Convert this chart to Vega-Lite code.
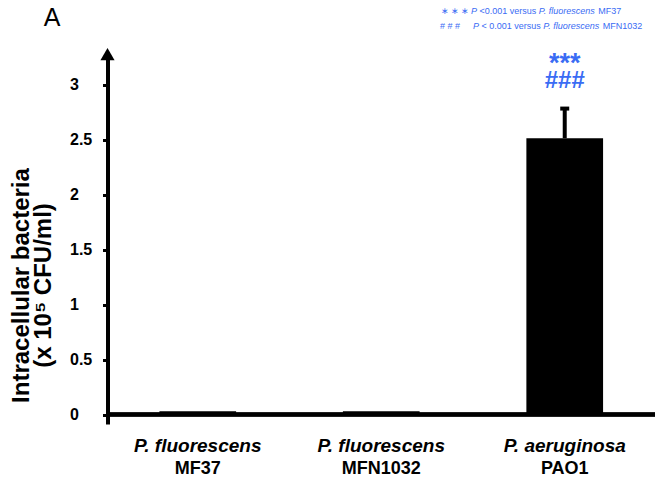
{
  "$schema": "https://vega.github.io/schema/vega-lite/v6.json",
  "width": 547.5,
  "height": 372,
  "autosize": "none",
  "padding": {"left": 107.5, "top": 52, "right": 0, "bottom": 56},
  "background": "white",
  "config": {"view": {"stroke": null}, "font": "Liberation Sans"},
  "data": {
    "values": [
      {"label": "P. fluorescens MF37", "mean": 0.03, "upper": null, "sig1": "", "sig2": ""},
      {"label": "P. fluorescens MFN1032", "mean": 0.03, "upper": null, "sig1": "", "sig2": ""},
      {"label": "P. aeruginosa PAO1", "mean": 2.515, "upper": 2.785, "sig1": "***", "sig2": "###"}
    ]
  },
  "layer": [
    {
      "mark": {"type": "bar", "color": "black"},
      "encoding": {
        "x": {
          "field": "label", "type": "nominal", "sort": null,
          "scale": {"paddingInner": 0.582, "paddingOuter": 0.283},
          "axis": {
            "orient": "bottom",
            "labelExpr": "slice(datum.value, 0, lastindexof(datum.value, ' '))",
            "labelAngle": 0, "labelFontSize": 19, "labelFontWeight": "bold", "labelFontStyle": "italic",
            "labelColor": "black", "labelPadding": 12, "labelBaseline": "top", "ticks": false, "domain": false, "title": null
          }
        },
        "y": {
          "field": "mean", "type": "quantitative",
          "scale": {"domain": [-0.086, 3.3], "nice": false, "zero": false},
          "axis": {
            "values": [0, 0.5, 1, 1.5, 2, 2.5, 3], "format": "~g", "grid": false,
            "domainWidth": 4, "domainColor": "black", "tickWidth": 3, "tickSize": 5, "tickColor": "black",
            "labelFontSize": 16, "labelFontWeight": "bold", "labelAlign": "left", "labelPadding": 33,
            "labelBaseline": "middle", "labelColor": "black",
            "title": ["Intracellular bacteria", "(x 10⁵ CFU/ml)"],
            "titleFontSize": 24, "titleFontWeight": "bold", "titleColor": "black",
            "titleX": -86, "titleY": 233, "titleAngle": -90, "titleAlign": "center", "titleBaseline": "middle",
            "titleLineHeight": 22
          }
        },
        "y2": {"datum": 0}
      }
    },
    {
      "transform": [{"filter": "datum.upper != null"}],
      "mark": {"type": "rule", "strokeWidth": 4, "color": "black"},
      "encoding": {
        "x": {"field": "label", "type": "nominal", "sort": null, "axis": null},
        "y": {"field": "mean", "type": "quantitative"},
        "y2": {"field": "upper"}
      }
    },
    {
      "transform": [{"filter": "datum.upper != null"}],
      "mark": {"type": "tick", "orient": "horizontal", "thickness": 4, "size": 9, "color": "black", "opacity": 1},
      "encoding": {
        "x": {"field": "label", "type": "nominal", "sort": null, "axis": null},
        "y": {"field": "upper", "type": "quantitative"}
      }
    },
    {
      "mark": {"type": "text", "fontSize": 27, "fontWeight": "bold", "color": "#3a6cf4", "baseline": "alphabetic", "align": "center"},
      "encoding": {
        "x": {
          "field": "label", "type": "nominal", "sort": null,
          "axis": {
            "orient": "bottom",
            "labelExpr": "slice(datum.value, lastindexof(datum.value, ' ') + 1)",
            "labelAngle": 0, "labelFontSize": 18, "labelFontWeight": "bold", "labelFontStyle": "normal",
            "labelColor": "black", "labelPadding": 35, "labelBaseline": "top", "ticks": false, "domain": false, "title": null
          }
        },
        "y": {"datum": 3.12},
        "text": {"field": "sig1"}
      }
    },
    {
      "mark": {"type": "text", "fontSize": 24, "fontWeight": "bold", "color": "#3a6cf4", "baseline": "alphabetic", "align": "center"},
      "encoding": {
        "x": {"field": "label", "type": "nominal", "sort": null, "axis": null},
        "y": {"datum": 2.97},
        "text": {"field": "sig2"}
      }
    },
    {
      "mark": {"type": "rule", "strokeWidth": 4, "color": "black"},
      "encoding": {"y": {"datum": 0}}
    },
    {
      "data": {"values": [{}]},
      "mark": {"type": "point", "shape": "triangle-up", "size": 200, "filled": true, "color": "black", "opacity": 1},
      "encoding": {"x": {"value": 0}, "y": {"datum": 3.28}}
    },
    {
      "data": {"values": [{}]},
      "mark": {"type": "text", "fontSize": 8.5, "color": "#3a6cf4", "align": "left", "baseline": "alphabetic"},
      "encoding": {"x": {"value": 333}, "y": {"value": -38}, "text": {"value": "∗ ∗ ∗"}}
    },
    {
      "data": {"values": [{}]},
      "mark": {"type": "text", "fontSize": 9, "fontStyle": "italic", "color": "#3a6cf4", "align": "left", "baseline": "alphabetic"},
      "encoding": {"x": {"value": 363.5}, "y": {"value": -38}, "text": {"value": "P"}}
    },
    {
      "data": {"values": [{}]},
      "mark": {"type": "text", "fontSize": 9, "color": "#3a6cf4", "align": "left", "baseline": "alphabetic"},
      "encoding": {"x": {"value": 372}, "y": {"value": -38}, "text": {"value": "<0.001 versus"}}
    },
    {
      "data": {"values": [{}]},
      "mark": {"type": "text", "fontSize": 9, "fontStyle": "italic", "color": "#3a6cf4", "align": "left", "baseline": "alphabetic"},
      "encoding": {"x": {"value": 431.3}, "y": {"value": -38}, "text": {"value": "P. fluorescens"}}
    },
    {
      "data": {"values": [{}]},
      "mark": {"type": "text", "fontSize": 9, "color": "#3a6cf4", "align": "left", "baseline": "alphabetic"},
      "encoding": {"x": {"value": 490.8}, "y": {"value": -38}, "text": {"value": "MF37"}}
    },
    {
      "data": {"values": [{}]},
      "mark": {"type": "text", "fontSize": 9, "color": "#3a6cf4", "align": "left", "baseline": "alphabetic"},
      "encoding": {"x": {"value": 332.5}, "y": {"value": -23}, "text": {"value": "# # #"}}
    },
    {
      "data": {"values": [{}]},
      "mark": {"type": "text", "fontSize": 9, "fontStyle": "italic", "color": "#3a6cf4", "align": "left", "baseline": "alphabetic"},
      "encoding": {"x": {"value": 365.5}, "y": {"value": -23}, "text": {"value": "P"}}
    },
    {
      "data": {"values": [{}]},
      "mark": {"type": "text", "fontSize": 9, "color": "#3a6cf4", "align": "left", "baseline": "alphabetic"},
      "encoding": {"x": {"value": 374}, "y": {"value": -23}, "text": {"value": "< 0.001 versus"}}
    },
    {
      "data": {"values": [{}]},
      "mark": {"type": "text", "fontSize": 9, "fontStyle": "italic", "color": "#3a6cf4", "align": "left", "baseline": "alphabetic"},
      "encoding": {"x": {"value": 435.8}, "y": {"value": -23}, "text": {"value": "P. fluorescens"}}
    },
    {
      "data": {"values": [{}]},
      "mark": {"type": "text", "fontSize": 9, "color": "#3a6cf4", "align": "left", "baseline": "alphabetic"},
      "encoding": {"x": {"value": 495.3}, "y": {"value": -23}, "text": {"value": "MFN1032"}}
    },
    {
      "data": {"values": [{}]},
      "mark": {"type": "text", "fontSize": 25, "color": "black", "align": "center", "baseline": "alphabetic"},
      "encoding": {"x": {"value": -55.5}, "y": {"value": -26}, "text": {"value": "A"}}
    }
  ],
  "resolve": {"axis": {"x": "independent"}}
}
